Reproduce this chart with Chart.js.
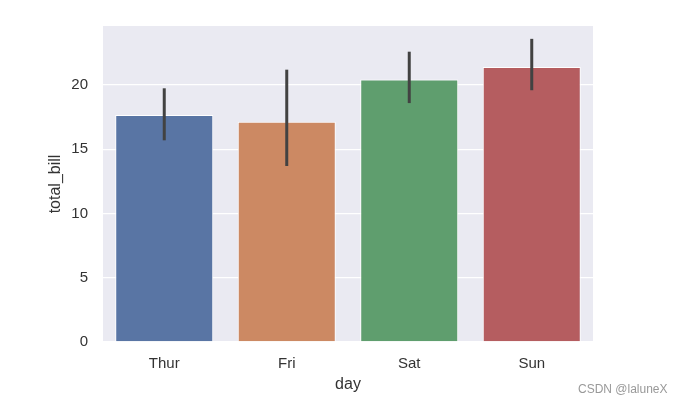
<!DOCTYPE html>
<html>
<head>
<meta charset="utf-8">
<script src="https://cdn.jsdelivr.net/npm/chart.js@4/dist/chart.umd.min.js"></script>
<style>
  html, body { margin: 0; padding: 0; background: #fff; }
  #wrap { position: relative; width: 683px; height: 405px; }
  #mark { position: absolute; left: 578px; top: 382px; font: 12px "Liberation Sans", Arial, sans-serif; color: #999; white-space: nowrap; }
</style>
</head>
<body>
<div id="wrap">
  <canvas id="c" width="683" height="405"></canvas>
  <div id="mark">CSDN @laluneX</div>
</div>
<script>
const days = ["Thur", "Fri", "Sat", "Sun"];
const totalBill = [17.68, 17.15, 20.44, 21.41];
const ciLow = [15.7, 13.7, 18.6, 19.6];
const ciHigh = [19.75, 21.2, 22.6, 23.6];
const barColors = ["#5975a4", "#cc8963", "#5f9e6e", "#b55d60"];
const yTicks = [0, 5, 10, 15, 20];

const bgPlugin = {
  id: 'bg',
  beforeDraw(chart) {
    const {ctx, chartArea: a} = chart;
    ctx.save();
    ctx.fillStyle = '#EAEAF2';
    ctx.fillRect(a.left, a.top, a.right - a.left, a.bottom - a.top);
    ctx.restore();
  }
};
const errPlugin = {
  id: 'err',
  afterDatasetsDraw(chart) {
    const {ctx, scales: {x, y}} = chart;
    ctx.save();
    ctx.strokeStyle = '#424242';
    ctx.lineWidth = 3;
    ctx.lineCap = 'butt';
    days.forEach((d, i) => {
      const px = x.getPixelForValue(i);
      ctx.beginPath();
      ctx.moveTo(px, y.getPixelForValue(ciLow[i]));
      ctx.lineTo(px, y.getPixelForValue(ciHigh[i]));
      ctx.stroke();
    });
    ctx.restore();
  }
};

const font = {family: '"Liberation Sans", Arial, sans-serif'};
new Chart(document.getElementById('c'), {
  type: 'bar',
  data: {
    labels: days,
    datasets: [{
      data: totalBill,
      backgroundColor: barColors,
      borderColor: '#ffffff',
      borderWidth: 1,
      barPercentage: 0.8,
      categoryPercentage: 1.0
    }]
  },
  options: {
    responsive: false,
    animation: false,
    devicePixelRatio: 1,
    layout: {padding: {left: 0, right: 90, top: 26, bottom: 0}},
    plugins: {legend: {display: false}, tooltip: {enabled: false}},
    scales: {
      x: {
        grid: {display: false, drawTicks: false},
        border: {display: false},
        ticks: {color: '#333', padding: 13, font: {...font, size: 15}},
        title: {display: true, text: 'day', color: '#333', font: {...font, size: 16}, padding: {top: 0, bottom: 11}},
        afterFit(s) { s.height = 63; }
      },
      y: {
        min: 0,
        max: 24.6,
        grid: {color: '#ffffff', lineWidth: 1.3, drawTicks: false},
        border: {display: false},
        afterBuildTicks(s) { s.ticks = yTicks.map(v => ({value: v})); },
        ticks: {color: '#333', padding: 15, font: {...font, size: 15}},
        title: {display: true, text: 'total_bill', color: '#333', font: {...font, size: 16}, padding: {top: 46, bottom: 0}},
        afterFit(s) { s.width = 103; }
      }
    }
  },
  plugins: [bgPlugin, errPlugin]
});
</script>
</body>
</html>
